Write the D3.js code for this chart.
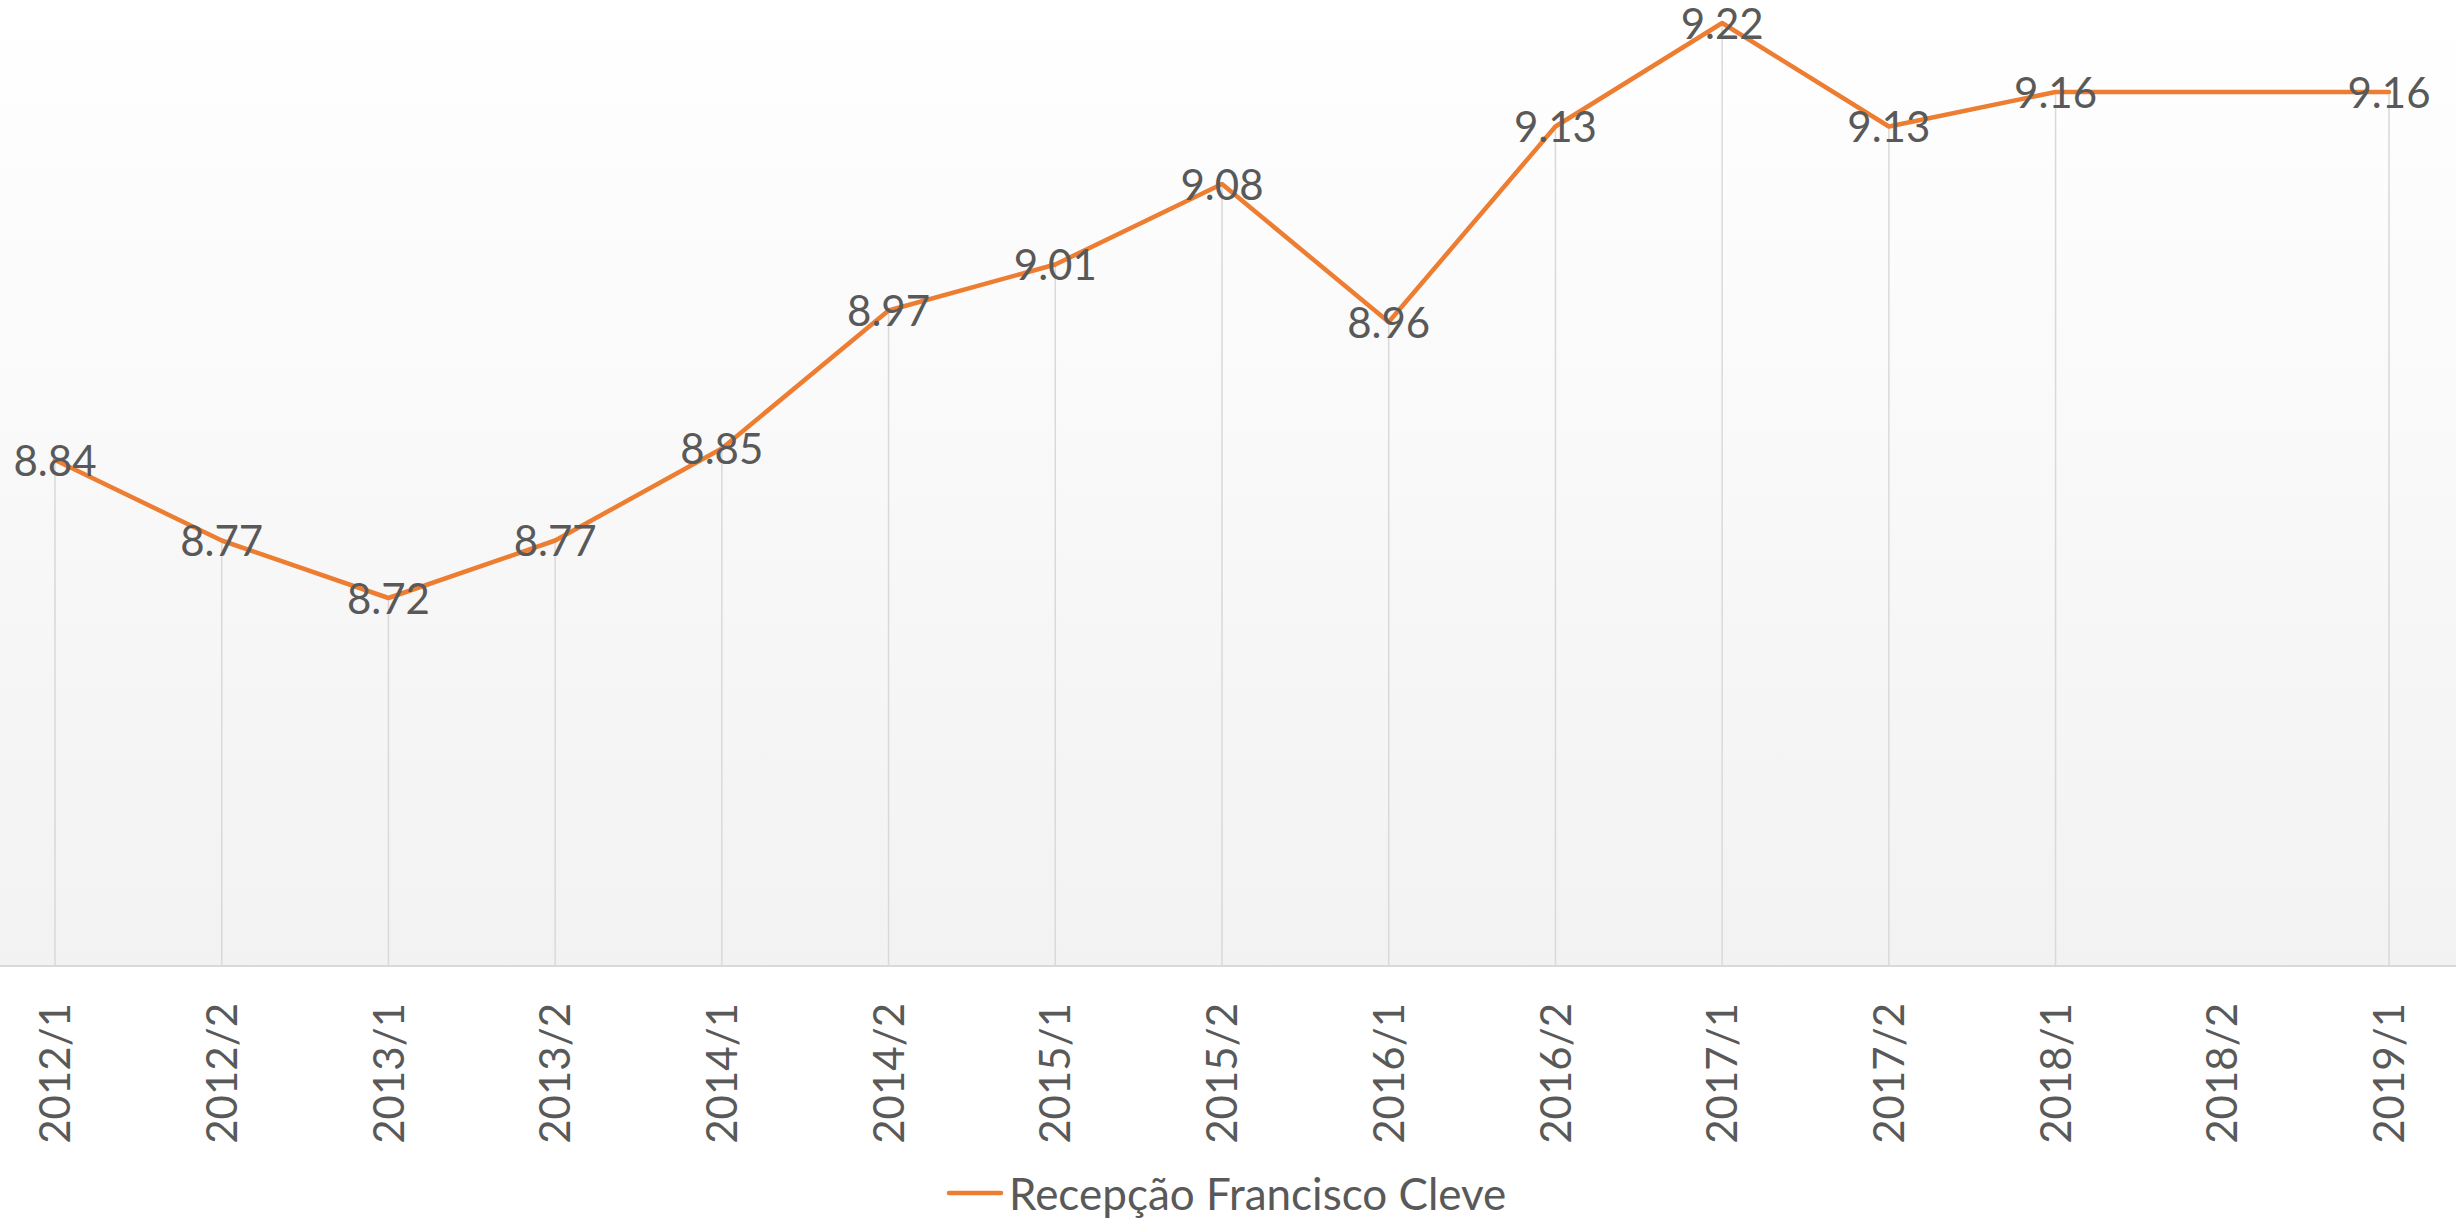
<!DOCTYPE html>
<html>
<head>
<meta charset="utf-8">
<script src="https://cdn.jsdelivr.net/npm/d3@7"></script>
<style>
  html, body { margin: 0; padding: 0; background: #ffffff; }
  svg { display: block; }
</style>
</head>
<body>
<svg id="chart" width="2456" height="1219"></svg>
<script>
const categories = ["2012/1","2012/2","2013/1","2013/2","2014/1","2014/2","2015/1","2015/2","2016/1","2016/2","2017/1","2017/2","2018/1","2018/2","2019/1"];
const values = [8.84, 8.77, 8.72, 8.77, 8.85, 8.97, 9.01, 9.08, 8.96, 9.13, 9.22, 9.13, 9.16, null, 9.16];
const seriesName = "Recepção Francisco Cleve";
const yDomain = [8.4, 9.24];

const W = 2456, H = 1219;
const axisY = 966;
const font = "Lato, 'Noto Sans', sans-serif";
const textColor = "#595959";
const lineColor = "#ED7D31";
const gridColor = "#D9D9D9";

const svg = d3.select("#chart");

const x = d3.scalePoint().domain(categories).range([55, 2389]);
const y = d3.scaleLinear().domain(yDomain).range([axisY, 0]);

// plot area gradient background
const defs = svg.append("defs");
const grad = defs.append("linearGradient").attr("id", "bg").attr("x1", 0).attr("y1", 0).attr("x2", 0).attr("y2", 1);
grad.append("stop").attr("offset", "0%").attr("stop-color", "#ffffff");
grad.append("stop").attr("offset", "100%").attr("stop-color", "#f2f2f2");
svg.append("rect").attr("x", 0).attr("y", 0).attr("width", W).attr("height", axisY).attr("fill", "url(#bg)");

const data = categories.map((c, i) => ({ c, v: values[i] })).filter(d => d.v !== null);

// drop lines
svg.append("g").selectAll("line").data(data).join("line")
  .attr("x1", d => x(d.c)).attr("x2", d => x(d.c))
  .attr("y1", d => y(d.v)).attr("y2", axisY)
  .attr("stroke", gridColor).attr("stroke-width", 1.5);

// x axis
const xAxis = d3.axisBottom(x).tickSize(0).tickPadding(0);
const gx = svg.append("g").attr("transform", `translate(0,${axisY})`).call(xAxis);
gx.select(".domain").remove();
gx.append("line").attr("x1", 0).attr("x2", W).attr("y1", 0).attr("y2", 0)
  .attr("stroke", gridColor).attr("stroke-width", 2);
gx.selectAll(".tick text")
  .attr("transform", "rotate(-90)")
  .attr("x", -37).attr("y", 0).attr("dy", "0.35em")
  .attr("text-anchor", "end")
  .attr("font-family", font).attr("font-size", 42).attr("fill", textColor);

// line
const line = d3.line().x(d => x(d.c)).y(d => y(d.v));
svg.append("path").datum(data).attr("d", line)
  .attr("fill", "none").attr("stroke", lineColor).attr("stroke-width", 4.5)
  .attr("stroke-linejoin", "round").attr("stroke-linecap", "round");

// data labels
svg.append("g").selectAll("text").data(data).join("text")
  .attr("x", d => x(d.c)).attr("y", d => y(d.v)).attr("dy", "0.37em")
  .attr("text-anchor", "middle")
  .attr("font-family", font).attr("font-size", 42).attr("fill", textColor)
  .text(d => d.v.toFixed(2));

// legend
const lg = svg.append("g").attr("transform", "translate(949,1193)");
lg.append("line").attr("x1", 0).attr("x2", 52).attr("y1", 0).attr("y2", 0)
  .attr("stroke", lineColor).attr("stroke-width", 4.5).attr("stroke-linecap", "round");
lg.append("text").attr("x", 60).attr("y", 2).attr("dy", "0.35em")
  .attr("font-family", font).attr("font-size", 44).attr("fill", textColor)
  .text(seriesName);
</script>
</body>
</html>
